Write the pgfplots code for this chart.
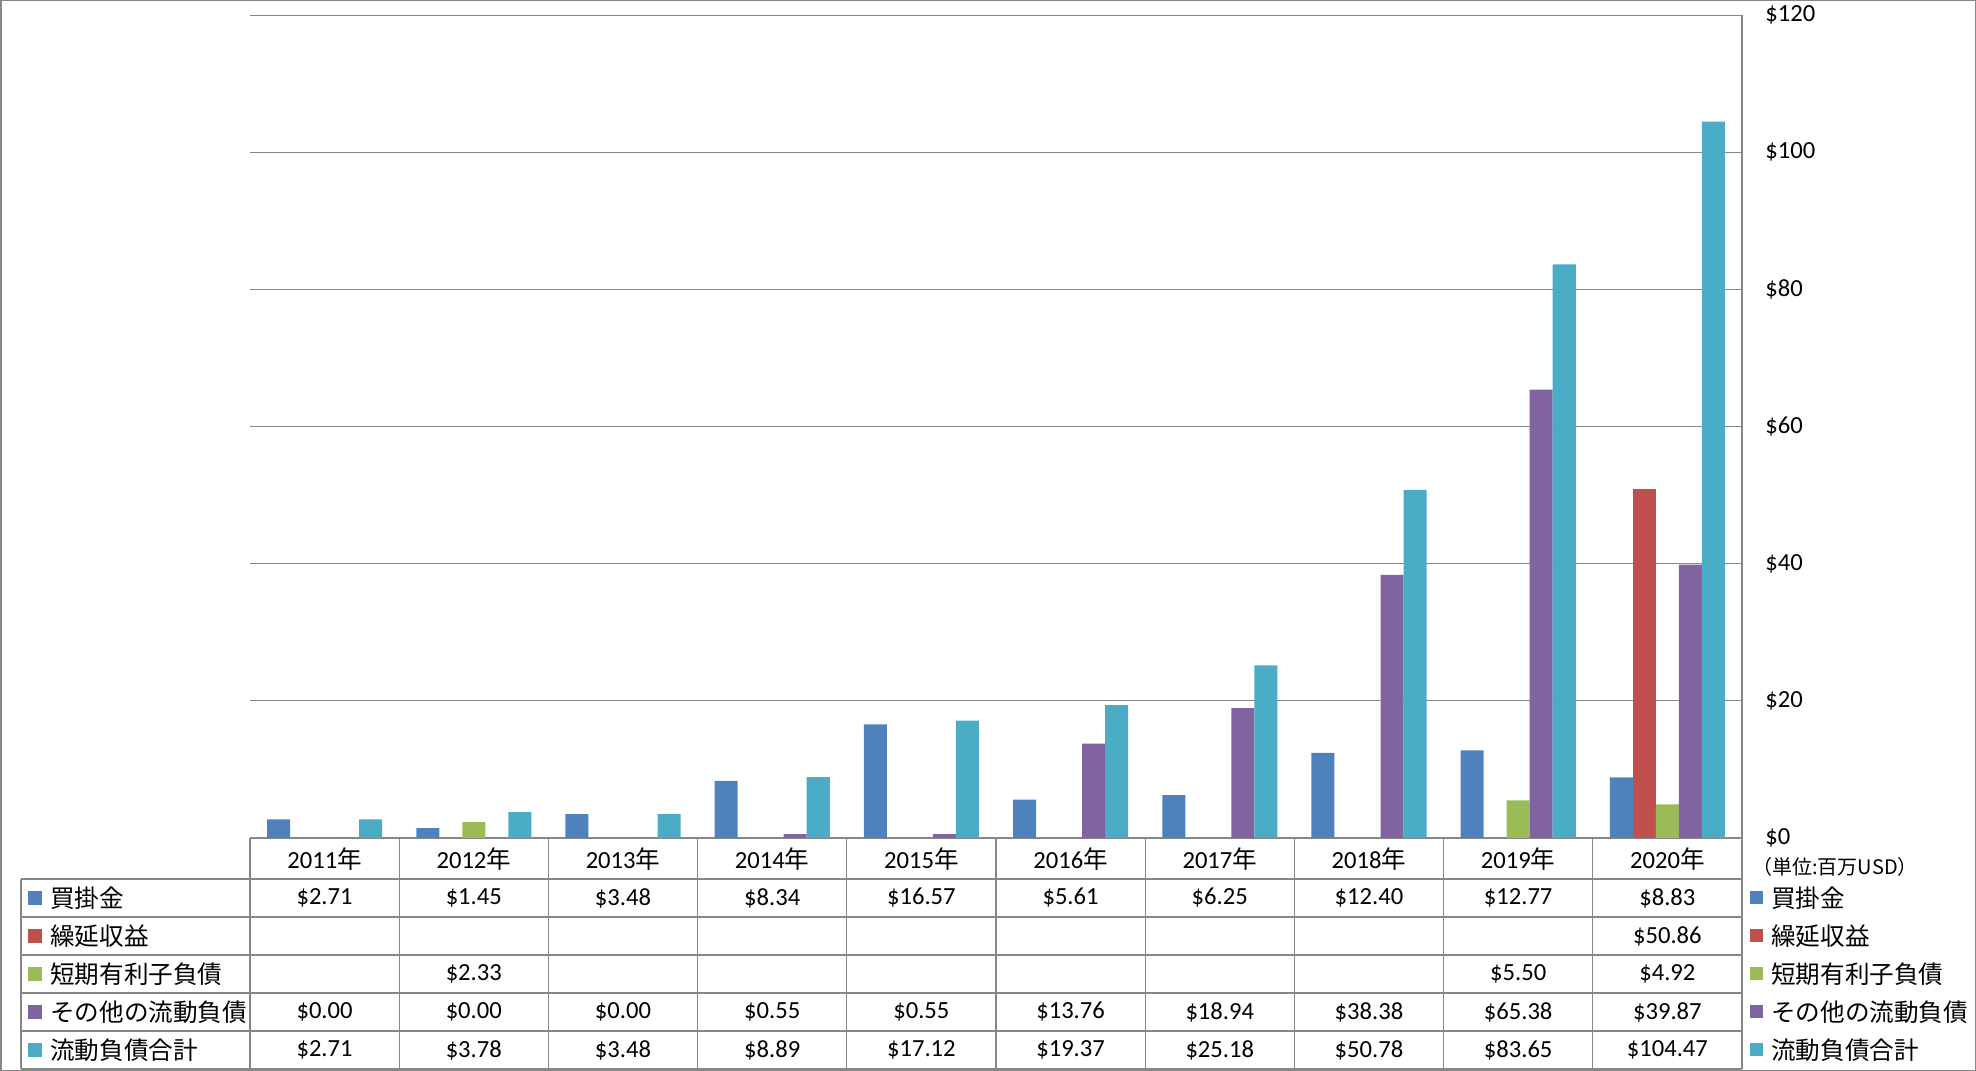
\documentclass[border=0pt]{standalone}
\usepackage{pgfplots}
\pgfplotsset{compat=1.18}
\usepackage{fontspec}
\setmainfont{Carlito}
\newfontfamily\cjk{Noto Sans CJK JP}
\definecolor{c1}{HTML}{4F81BD}
\definecolor{c2}{HTML}{C0504D}
\definecolor{c3}{HTML}{9BBB59}
\definecolor{c4}{HTML}{8064A2}
\definecolor{c5}{HTML}{4BACC6}
\definecolor{gridc}{HTML}{878787}
\begin{document}
\begin{tikzpicture}[font=\fontsize{12.3bp}{14bp}\selectfont]
\useasboundingbox (0,0) rectangle (988bp,535.5bp);
\draw[gridc, line width=0.75bp] (0.375bp,0.375bp) rectangle (987.625bp,535.125bp);
\begin{axis}[
  at={(125bp,116.5bp)}, anchor=south west,
  scale only axis, width=746bp, height=411.4bp,
  xmin=-0.5, xmax=9.5, ymin=0, ymax=120,
  axis line style={draw=none},
  xtick=\empty,
  ytick={0,20,40,60,80,100,120},
  yticklabels={\$0,\$20,\$40,\$60,\$80,\$100,\$120},
  yticklabel pos=right,
  major tick length=0pt,
  ymajorgrids, major grid style={gridc, line width=0.6bp},
  yticklabel style={anchor=west, inner sep=0pt, xshift=11.5bp, font=\fontsize{12.3bp}{14bp}\selectfont},
  clip=false,
]
\addplot[ybar, fill=c1, draw=none, bar width=0.1543, bar shift=-0.3086] coordinates {(0,2.71) (1,1.45) (2,3.48) (3,8.34) (4,16.57) (5,5.61) (6,6.25) (7,12.40) (8,12.77) (9,8.83)};
\addplot[ybar, fill=c2, draw=none, bar width=0.1543, bar shift=-0.1543] coordinates {(9,50.86)};
\addplot[ybar, fill=c3, draw=none, bar width=0.1543, bar shift=0] coordinates {(1,2.33) (8,5.50) (9,4.92)};
\addplot[ybar, fill=c4, draw=none, bar width=0.1543, bar shift=0.1543] coordinates {(0,0) (1,0) (2,0) (3,0.55) (4,0.55) (5,13.76) (6,18.94) (7,38.38) (8,65.38) (9,39.87)};
\addplot[ybar, fill=c5, draw=none, bar width=0.1543, bar shift=0.3086] coordinates {(0,2.71) (1,3.78) (2,3.48) (3,8.89) (4,17.12) (5,19.37) (6,25.18) (7,50.78) (8,83.65) (9,104.47)};
\draw[gridc, line width=0.6bp] (rel axis cs:1,0) -- (rel axis cs:1,1);
\end{axis}
\begin{scope}[x=0.5bp, y=-0.5bp, shift={(0,535.5bp)}, every node/.style={inner sep=0pt}]
  % table lines
  \foreach \yy in {879,917,955,993,1031,1069} {\draw[gridc, line width=0.6bp] (21,\yy) -- (1742,\yy);}
  \draw[gridc, line width=0.6bp] (21,879) -- (21,1069);
  \foreach \k in {0,...,10} {\draw[gridc, line width=0.6bp] ({250+149.2*\k},838) -- ({250+149.2*\k},1069);}
  % header
  \foreach \yr [count=\i from 0] in {2011,2012,2013,2014,2015,2016,2017,2018,2019,2020} {\node at ({250+149.2*(\i+0.5)},859) {\yr{\cjk 年}};}
  % row labels
  \fill[c1] (28,891) rectangle (42,905); \node[anchor=west] at (50,898) {\cjk 買掛金};
  \fill[c2] (28,929) rectangle (42,943); \node[anchor=west] at (50,936) {\cjk 繰延収益};
  \fill[c3] (28,967) rectangle (42,981); \node[anchor=west] at (50,974) {\cjk 短期有利子負債};
  \fill[c4] (28,1005) rectangle (42,1019); \node[anchor=west] at (50,1012) {\cjk その他の流動負債};
  \fill[c5] (28,1043) rectangle (42,1057); \node[anchor=west] at (50,1050) {\cjk 流動負債合計};
  % values
  \foreach \v [count=\i from 0] in {2.71,1.45,3.48,8.34,16.57,5.61,6.25,12.40,12.77,8.83} {\node at ({250+149.2*(\i+0.5)},898) {\$\v};}
  \node at ({250+149.2*9.5},936) {\$50.86};
  \node at ({250+149.2*1.5},974) {\$2.33};
  \node at ({250+149.2*8.5},974) {\$5.50};
  \node at ({250+149.2*9.5},974) {\$4.92};
  \foreach \v [count=\i from 0] in {0.00,0.00,0.00,0.55,0.55,13.76,18.94,38.38,65.38,39.87} {\node at ({250+149.2*(\i+0.5)},1012) {\$\v};}
  \foreach \v [count=\i from 0] in {2.71,3.78,3.48,8.89,17.12,19.37,25.18,50.78,83.65,104.47} {\node at ({250+149.2*(\i+0.5)},1050) {\$\v};}
  % right legend
  \node[anchor=west, font=\cjk\fontsize{10bp}{12bp}\selectfont] at (1752,867) {（単位:百万USD）};
  \fill[c1] (1750,891) rectangle (1763,904); \node[anchor=west] at (1771,898) {\cjk 買掛金};
  \fill[c2] (1750,929) rectangle (1763,942); \node[anchor=west] at (1771,936) {\cjk 繰延収益};
  \fill[c3] (1750,967) rectangle (1763,980); \node[anchor=west] at (1771,974) {\cjk 短期有利子負債};
  \fill[c4] (1750,1005) rectangle (1763,1018); \node[anchor=west] at (1771,1012) {\cjk その他の流動負債};
  \fill[c5] (1750,1043) rectangle (1763,1056); \node[anchor=west] at (1771,1050) {\cjk 流動負債合計};
\end{scope}
\end{tikzpicture}
\end{document}
